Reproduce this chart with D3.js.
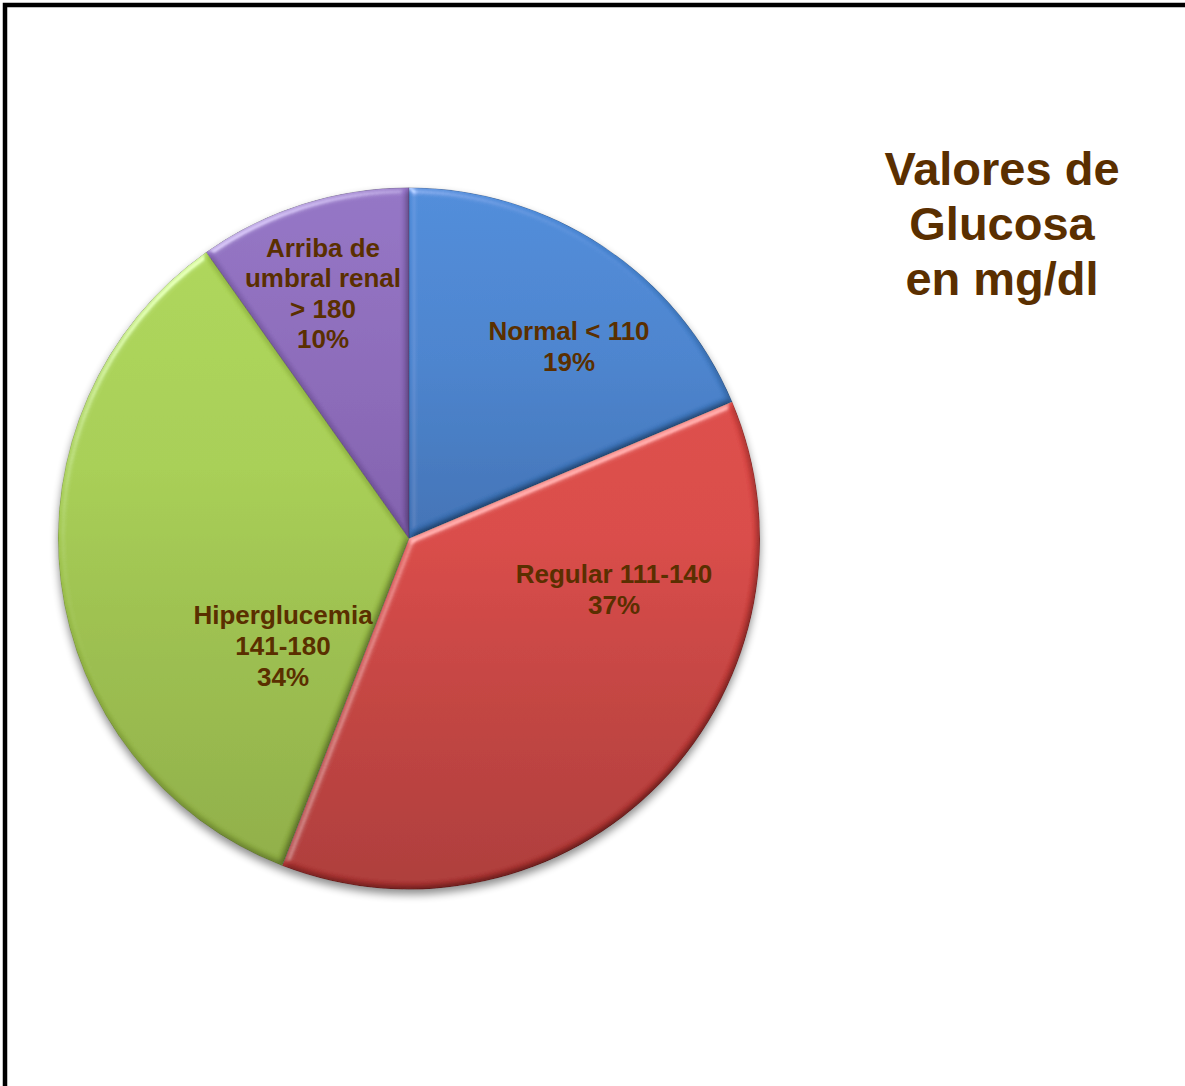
<!DOCTYPE html>
<html>
<head>
<meta charset="utf-8">
<script src="https://cdn.jsdelivr.net/npm/d3@7"></script>
<style>
  html, body { margin: 0; padding: 0; background: #ffffff; }
  svg { display: block; }
</style>
</head>
<body>
<svg id="chart" width="1185" height="1086"></svg>
<script>
// ---- data ----
const categories = ["Normal < 110", "Regular 111-140", "Hiperglucemia 141-180", "Arriba de umbral renal > 180"];
const labelLines = [
  ["Normal < 110"],
  ["Regular 111-140"],
  ["Hiperglucemia", "141-180"],
  ["Arriba de", "umbral renal", "> 180"]
];
const values = [19, 38, 35, 10];
const titleLines = ["Valores de", "Glucosa", "en mg/dl"];

// ---- layout / style (not data) ----
const W = 1185, H = 1086;
const cx = 409, cy = 538.5, R = 351;
// gradient stops (offset along pie's vertical diameter, colour)
const gradStops = [
  [[0, "#4b8ad9"], [0.25, "#4581cc"], [0.5, "#3a6fb3"], [1, "#34649f"]],
  [[0, "#e24b47"], [0.5, "#d84542"], [0.73, "#c13c39"], [1, "#ab3432"]],
  [[0, "#add756"], [0.4, "#a6cd51"], [0.6, "#9cc04a"], [1, "#8cab41"]],
  [[0, "#9272c4"], [0.3, "#8866b6"], [0.6, "#7a58a6"], [1, "#6e4e96"]]
];
const textColor = "#5a2f00";
// label anchor offsets (first baseline) relative to pie centre, and line spacing
const labelLayout = [
  { dx: 160, dy: -199, lh: 31 },
  { dx: 205, dy: 44, lh: 31 },
  { dx: -126, dy: 85, lh: 31 },
  { dx: -86, dy: -282, lh: 30.5 }
];

const svg = d3.select("#chart");
const defs = svg.append("defs");

// gradients (in the pie group's coordinate space)
gradStops.forEach((stops, i) => {
  const g = defs.append("linearGradient")
    .attr("id", "grad" + i)
    .attr("gradientUnits", "userSpaceOnUse")
    .attr("x1", 0).attr("y1", -R)
    .attr("x2", 0).attr("y2", R);
  stops.forEach(s => g.append("stop").attr("offset", s[0]).attr("stop-color", s[1]));
});

// bevel filter
const bevel = defs.append("filter").attr("id", "bevel")
  .attr("x", "-10%").attr("y", "-10%").attr("width", "120%").attr("height", "120%");
bevel.append("feGaussianBlur").attr("in", "SourceAlpha").attr("stdDeviation", 3.5).attr("result", "blur");
const spec = bevel.append("feSpecularLighting")
  .attr("in", "blur").attr("surfaceScale", 4).attr("specularConstant", 0.7)
  .attr("specularExponent", 22).attr("lighting-color", "#ffffff").attr("result", "spec");
spec.append("feDistantLight").attr("azimuth", 235).attr("elevation", 30);
bevel.append("feComposite").attr("in", "spec").attr("in2", "SourceAlpha").attr("operator", "in").attr("result", "specIn");
const diff = bevel.append("feDiffuseLighting")
  .attr("in", "blur").attr("surfaceScale", 4).attr("diffuseConstant", 1.155)
  .attr("lighting-color", "#ffffff").attr("result", "diff");
diff.append("feDistantLight").attr("azimuth", 235).attr("elevation", 60);
bevel.append("feComposite").attr("in", "SourceGraphic").attr("in2", "diff")
  .attr("operator", "arithmetic").attr("k1", 1).attr("k2", 0).attr("k3", 0).attr("k4", 0).attr("result", "lit");
bevel.append("feComposite").attr("in", "lit").attr("in2", "specIn")
  .attr("operator", "arithmetic").attr("k2", 1).attr("k3", 0.55).attr("result", "out");
bevel.append("feComposite").attr("in", "out").attr("in2", "SourceAlpha").attr("operator", "in");

// drop shadow
const shadow = defs.append("filter").attr("id", "shadow")
  .attr("x", "-10%").attr("y", "-10%").attr("width", "120%").attr("height", "125%");
shadow.append("feGaussianBlur").attr("in", "SourceAlpha").attr("stdDeviation", 4).attr("result", "b");
shadow.append("feOffset").attr("in", "b").attr("dx", 0).attr("dy", 5).attr("result", "o");
shadow.append("feComponentTransfer").attr("in", "o").attr("result", "oa")
  .append("feFuncA").attr("type", "linear").attr("slope", 0.45);
const m = shadow.append("feMerge");
m.append("feMergeNode").attr("in", "oa");
m.append("feMergeNode").attr("in", "SourceGraphic");

// frame
svg.append("rect")
  .attr("x", 5).attr("y", 5).attr("width", W + 40).attr("height", H + 40)
  .attr("fill", "none").attr("stroke", "#000").attr("stroke-width", 4.5);

// pie
const pie = d3.pie().sort(null).value(d => d);
const arcs = pie(values);
const arc = d3.arc().innerRadius(0).outerRadius(R);
const total = d3.sum(values);

const pg = svg.append("g").attr("transform", `translate(${cx},${cy})`).attr("filter", "url(#shadow)");
pg.selectAll("path.slice")
  .data(arcs)
  .join("path")
  .attr("class", "slice")
  .attr("d", arc)
  .attr("fill", (d, i) => `url(#grad${i})`)
  .attr("filter", "url(#bevel)")
  .attr("stroke", "rgba(0,0,0,0.3)")
  .attr("stroke-width", 0.8);

// labels
const lg = svg.append("g").attr("transform", `translate(${cx},${cy})`);
arcs.forEach((a, i) => {
  const L = labelLayout[i];
  const lines = labelLines[i].concat([d3.format(".0%")(a.value / total)]);
  const t = lg.append("text")
    .attr("x", L.dx).attr("y", L.dy)
    .attr("text-anchor", "middle")
    .attr("font-family", "'Liberation Sans', Arial, sans-serif")
    .attr("font-weight", "bold")
    .attr("font-size", 26)
    .attr("fill", textColor);
  lines.forEach((ln, k) => {
    t.append("tspan").attr("x", L.dx).attr("y", L.dy + k * L.lh).text(ln);
  });
});

// title
const tt = svg.append("text")
  .attr("text-anchor", "middle")
  .attr("font-family", "'Liberation Sans', Arial, sans-serif")
  .attr("font-weight", "bold")
  .attr("font-size", 47)
  .attr("fill", textColor);
titleLines.forEach((ln, k) => {
  tt.append("tspan").attr("x", 1002).attr("y", 185 + k * 55).text(ln);
});
</script>
</body>
</html>
